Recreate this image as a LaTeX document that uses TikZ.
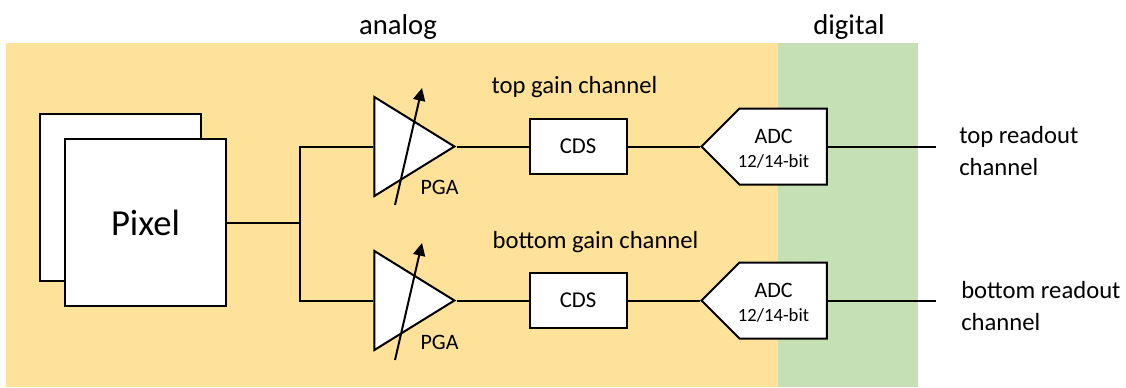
\documentclass[tikz,border=0pt]{standalone}
\usepackage{fontspec}
\setmainfont{Carlito}
\usetikzlibrary{calc,positioning,shapes.geometric,shapes.symbols,arrows.meta}

\definecolor{analogbg}{HTML}{FFE299}
\definecolor{digitalbg}{HTML}{C5E0B4}

\begin{document}
\begin{tikzpicture}[
                x=0.75pt,y=-0.75pt,
                every node/.style={black},
                wire/.style={line width=1.5pt},
                block/.style={draw,line width=1.5pt,fill=white,inner sep=0pt,minimum width=#1},
                cds/.style={block=72.75pt,minimum height=41.25pt,font=\fontsize{17}{20}\selectfont},
                pixelbox/.style={block=120.75pt,minimum height=125.25pt},
                amp/.style={draw,line width=1.5pt,fill=white,inner sep=0pt,isosceles triangle,isosceles triangle stretches,
                    shape border rotate=0,minimum height=60pt,minimum width=74.25pt,anchor=apex},
                adc/.style={draw,line width=1.5pt,fill=white,inner sep=0pt,signal,signal to=west,signal from=nowhere,
                    minimum width=94pt,minimum height=57pt,anchor=west},
                tune/.style={line width=1.5pt,-{Triangle[length=9.5pt,width=9pt]}},
                title/.style={font=\fontsize{21.5}{26}\selectfont,anchor=base},
                caption/.style={font=\fontsize{18.5}{22}\selectfont,anchor=base},
                side/.style={font=\fontsize{18.5}{23.5}\selectfont,align=left,anchor=west,inner sep=0pt},
                small/.style={font=\fontsize{16.5}{20}\selectfont,anchor=base},
                tiny/.style={font=\fontsize{14}{17}\selectfont,anchor=base}
            ]
                \useasboundingbox (0,0) rectangle (1126,387);
                \fill [analogbg] (6,43) rectangle (778,387);
                \fill [digitalbg] (778,43) rectangle (918,387);

                \node [title] (analog) at (398,34) {analog};
                \node [title] (digital) at (849,34) {digital};
                \node [caption] (topname) at (574.5,93) {top gain channel};
                \node [caption] (botname) at (595.5,248) {bottom gain channel};

                \node [pixelbox] (pixelback) at (120.5,197.5) {};
                \node [pixelbox] (pixel) at (145.5,222.5) {};
                \node [font=\fontsize{27.5}{32}\selectfont,anchor=base] (pixelname) at (145.5,235) {Pixel};
                \coordinate (split) at (300,222.5);

                \node [amp] (amptop) at (457,146.5) {};
                \node [amp] (ampbot) at (457,300.5) {};
                \node [small] (pgatop) at (439.5,194) {PGA};
                \node [small] (pgabot) at (439.5,349) {PGA};

                \node [cds] (cdstop) at (578,146.5) {CDS};
                \node [cds] (cdsbot) at (578,300.5) {CDS};

                \node [adc] (adctop) at (700,146.5) {};
                \node [adc] (adcbot) at (700,300.5) {};
                \node [small] (adcnametop) at (773.5,143) {ADC};
                \node [tiny] (adcbitstop) at (773.5,167) {12/14-bit};
                \node [small] (adcnamebot) at (773.5,297) {ADC};
                \node [tiny] (adcbitsbot) at (773.5,321) {12/14-bit};

                \coordinate (outtop) at (936,146.5);
                \coordinate (outbot) at (936,300.5);
                \node [side] (readtop) at (959,151) {top readout\\channel};
                \node [side] (readbot) at (961,306) {bottom readout\\channel};

                \draw [wire] (pixel.east) -- (split);
                \draw [wire] (split) |- (amptop.west);
                \draw [wire] (split) |- (ampbot.west);
                \draw [wire] (amptop.apex) -- (cdstop.west);
                \draw [wire] (ampbot.apex) -- (cdsbot.west);
                \draw [wire] (cdstop.east) -- (adctop.west);
                \draw [wire] (cdsbot.east) -- (adcbot.west);
                \draw [wire] (adctop.east) -- (outtop);
                \draw [wire] (adcbot.east) -- (outbot);

                \draw [tune] (395,205) -- (422,88);
                \draw [tune] (395,360) -- (422,243);
            \end{tikzpicture}
\end{document}
